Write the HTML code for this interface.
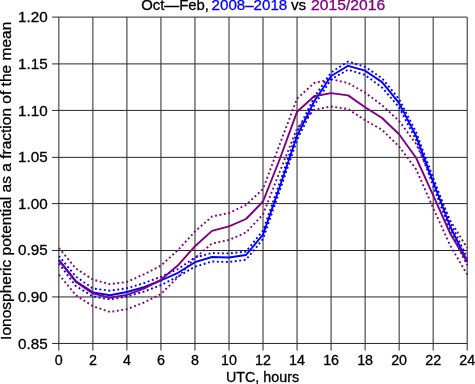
<!DOCTYPE html>
<html><head><meta charset="utf-8"><style>html,body{margin:0;padding:0;background:#fff;overflow:hidden}svg{display:block;will-change:transform}</style></head>
<body>
<svg width="475" height="384" viewBox="0 0 475 384">
<rect width="475" height="384" fill="#fff"/>
<g stroke="#000" stroke-width="1.0" fill="none" opacity="0.85">
<line x1="58.85" y1="17.10" x2="58.85" y2="350.60"/>
<line x1="92.88" y1="17.10" x2="92.88" y2="350.60"/>
<line x1="126.91" y1="17.10" x2="126.91" y2="350.60"/>
<line x1="160.94" y1="17.10" x2="160.94" y2="350.60"/>
<line x1="194.97" y1="17.10" x2="194.97" y2="350.60"/>
<line x1="229.00" y1="17.10" x2="229.00" y2="350.60"/>
<line x1="263.02" y1="17.10" x2="263.02" y2="350.60"/>
<line x1="297.05" y1="17.10" x2="297.05" y2="350.60"/>
<line x1="331.08" y1="17.10" x2="331.08" y2="350.60"/>
<line x1="365.11" y1="17.10" x2="365.11" y2="350.60"/>
<line x1="399.14" y1="17.10" x2="399.14" y2="350.60"/>
<line x1="433.17" y1="17.10" x2="433.17" y2="350.60"/>
<line x1="467.20" y1="17.10" x2="467.20" y2="350.60"/>
<line x1="52.10" y1="343.45" x2="467.20" y2="343.45"/>
<line x1="52.10" y1="296.95" x2="467.20" y2="296.95"/>
<line x1="52.10" y1="250.50" x2="467.20" y2="250.50"/>
<line x1="52.10" y1="203.60" x2="467.20" y2="203.60"/>
<line x1="52.10" y1="157.35" x2="467.20" y2="157.35"/>
<line x1="52.10" y1="110.40" x2="467.20" y2="110.40"/>
<line x1="52.10" y1="63.90" x2="467.20" y2="63.90"/>
<line x1="52.10" y1="17.10" x2="467.20" y2="17.10"/>
</g>
<g fill="none" stroke-linejoin="round" stroke-linecap="butt">
<polyline points="58.9,248.0 75.9,268.5 92.9,279.6 109.9,284.2 126.9,281.9 143.9,274.4 160.9,265.6 178.0,250.0 195.0,231.5 212.0,216.5 229.0,213.0 246.0,205.0 263.0,189.0 280.0,143.6 297.1,98.6 314.1,83.0 331.1,79.2 348.1,83.0 365.1,92.7 382.1,105.2 399.1,121.0 416.2,144.0 433.2,181.0 450.2,220.5 467.2,248.0" stroke="#800080" stroke-width="1.9" stroke-dasharray="1.9 2.6"/>
<polyline points="58.9,274.5 75.9,295.3 92.9,306.2 109.9,312.0 126.9,309.2 143.9,302.5 160.9,294.0 178.0,277.1 195.0,258.0 212.0,243.5 229.0,240.0 246.0,232.5 263.0,214.5 280.0,171.0 297.1,128.5 314.1,109.8 331.1,106.5 348.1,109.1 365.1,120.2 382.1,129.9 399.1,146.5 416.2,169.4 433.2,208.0 450.2,245.5 467.2,274.5" stroke="#800080" stroke-width="1.9" stroke-dasharray="1.9 2.6"/>
<polyline points="58.9,259.8 75.9,281.2 92.9,292.4 109.9,295.3 126.9,292.0 143.9,287.1 160.9,280.5 178.0,272.8 195.0,262.2 212.0,257.0 229.0,257.5 246.0,255.0 263.0,234.6 280.0,186.0 297.1,135.8 314.1,101.5 331.1,76.0 348.1,65.8 365.1,70.7 382.1,82.1 399.1,103.1 416.2,136.3 433.2,182.0 450.2,226.5 467.2,261.5" stroke="#0000ff" stroke-width="1.9"/>
<polyline points="58.9,256.0 75.9,276.5 92.9,288.5 109.9,290.7 126.9,288.2 143.9,283.1 160.9,276.8 178.0,269.0 195.0,257.5 212.0,253.0 229.0,253.5 246.0,251.5 263.0,230.6 280.0,182.0 297.1,131.8 314.1,97.5 331.1,72.4 348.1,61.5 365.1,66.8 382.1,78.3 399.1,99.1 416.2,132.3 433.2,178.0 450.2,222.5 467.2,257.7" stroke="#0000ff" stroke-width="1.9" stroke-dasharray="1.9 2.6"/>
<polyline points="58.9,263.5 75.9,286.2 92.9,296.3 109.9,299.5 126.9,296.5 143.9,291.6 160.9,285.2 178.0,276.5 195.0,266.7 212.0,261.5 229.0,262.0 246.0,259.7 263.0,239.1 280.0,190.0 297.1,139.8 314.1,105.5 331.1,79.3 348.1,69.7 365.1,75.0 382.1,87.6 399.1,107.3 416.2,140.3 433.2,186.0 450.2,230.5 467.2,265.2" stroke="#0000ff" stroke-width="1.9" stroke-dasharray="1.9 2.6"/>
<polyline points="58.9,260.3 75.9,281.9 92.9,293.4 109.9,297.8 126.9,294.9 143.9,288.6 160.9,279.8 178.0,265.3 195.0,246.2 212.0,230.9 229.0,226.3 246.0,219.0 263.0,201.5 280.0,158.5 297.1,111.7 314.1,96.3 331.1,93.1 348.1,95.4 365.1,107.2 382.1,118.0 399.1,134.3 416.2,158.0 433.2,195.3 450.2,233.5 467.2,262.0" stroke="#800080" stroke-width="1.9"/>
</g>
<g font-family="'Liberation Sans', sans-serif" font-size="14.3" fill="#000" stroke="#000" stroke-width="0.3">
<text x="47.6" y="348.60" text-anchor="end" textLength="29.6" lengthAdjust="spacingAndGlyphs">0.85</text>
<text x="47.6" y="301.99" text-anchor="end" textLength="29.6" lengthAdjust="spacingAndGlyphs">0.90</text>
<text x="47.6" y="255.37" text-anchor="end" textLength="29.6" lengthAdjust="spacingAndGlyphs">0.95</text>
<text x="47.6" y="208.76" text-anchor="end" textLength="29.6" lengthAdjust="spacingAndGlyphs">1.00</text>
<text x="47.6" y="162.14" text-anchor="end" textLength="29.6" lengthAdjust="spacingAndGlyphs">1.05</text>
<text x="47.6" y="115.53" text-anchor="end" textLength="29.6" lengthAdjust="spacingAndGlyphs">1.10</text>
<text x="47.6" y="68.91" text-anchor="end" textLength="29.6" lengthAdjust="spacingAndGlyphs">1.15</text>
<text x="47.6" y="22.30" text-anchor="end" textLength="29.6" lengthAdjust="spacingAndGlyphs">1.20</text>
<text x="58.85" y="364.5" text-anchor="middle">0</text>
<text x="92.88" y="364.5" text-anchor="middle">2</text>
<text x="126.91" y="364.5" text-anchor="middle">4</text>
<text x="160.94" y="364.5" text-anchor="middle">6</text>
<text x="194.97" y="364.5" text-anchor="middle">8</text>
<text x="229.00" y="364.5" text-anchor="middle">10</text>
<text x="263.02" y="364.5" text-anchor="middle">12</text>
<text x="297.05" y="364.5" text-anchor="middle">14</text>
<text x="331.08" y="364.5" text-anchor="middle">16</text>
<text x="365.11" y="364.5" text-anchor="middle">18</text>
<text x="399.14" y="364.5" text-anchor="middle">20</text>
<text x="433.17" y="364.5" text-anchor="middle">22</text>
<text x="467.20" y="364.5" text-anchor="middle">24</text>
<text x="262.5" y="381.5" text-anchor="middle">UTC, hours</text>
<text transform="translate(11,180.8) rotate(-90)" text-anchor="middle" textLength="318.2" lengthAdjust="spacingAndGlyphs">Ionospheric potential as a fraction of the mean</text>
<text x="141.2" y="10.3" textLength="67.8" lengthAdjust="spacingAndGlyphs">Oct—Feb,</text>
<text x="211.6" y="10.3" textLength="75.6" lengthAdjust="spacingAndGlyphs" fill="#0000ff" stroke="#0000ff">2008–2018</text>
<text x="290.9" y="10.3" textLength="15.3" lengthAdjust="spacingAndGlyphs">vs</text>
<text x="311.1" y="10.3" textLength="74.1" lengthAdjust="spacingAndGlyphs" fill="#800080" stroke="#800080">2015/2016</text>
</g>
</svg>
</body></html>
